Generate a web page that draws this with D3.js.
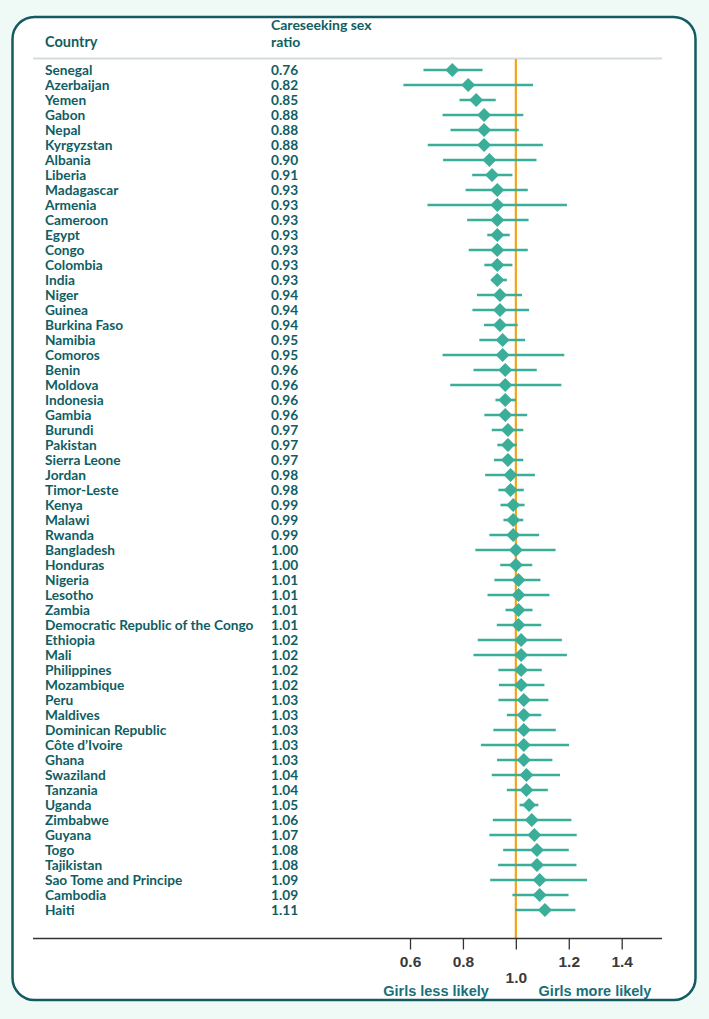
<!DOCTYPE html>
<html><head><meta charset="utf-8">
<script src="https://cdn.jsdelivr.net/npm/d3@7"></script>
<style>html,body{margin:0;padding:0;background:#effaf7;}</style>
</head><body>
<script>
const countries = ["Senegal","Azerbaijan","Yemen","Gabon","Nepal","Kyrgyzstan","Albania","Liberia","Madagascar","Armenia","Cameroon","Egypt","Congo","Colombia","India","Niger","Guinea","Burkina Faso","Namibia","Comoros","Benin","Moldova","Indonesia","Gambia","Burundi","Pakistan","Sierra Leone","Jordan","Timor-Leste","Kenya","Malawi","Rwanda","Bangladesh","Honduras","Nigeria","Lesotho","Zambia","Democratic Republic of the Congo","Ethiopia","Mali","Philippines","Mozambique","Peru","Maldives","Dominican Republic","Côte d’Ivoire","Ghana","Swaziland","Tanzania","Uganda","Zimbabwe","Guyana","Togo","Tajikistan","Sao Tome and Principe","Cambodia","Haiti"];
const ratio = [0.76,0.82,0.85,0.88,0.88,0.88,0.90,0.91,0.93,0.93,0.93,0.93,0.93,0.93,0.93,0.94,0.94,0.94,0.95,0.95,0.96,0.96,0.96,0.96,0.97,0.97,0.97,0.98,0.98,0.99,0.99,0.99,1.00,1.00,1.01,1.01,1.01,1.01,1.02,1.02,1.02,1.02,1.03,1.03,1.03,1.03,1.03,1.04,1.04,1.05,1.06,1.07,1.08,1.08,1.09,1.09,1.11];
const lower = [0.651,0.575,0.787,0.723,0.753,0.667,0.725,0.835,0.810,0.666,0.816,0.892,0.822,0.881,0.907,0.853,0.836,0.880,0.862,0.723,0.840,0.752,0.923,0.881,0.909,0.930,0.917,0.884,0.934,0.942,0.953,0.900,0.847,0.941,0.919,0.893,0.961,0.928,0.856,0.840,0.934,0.936,0.934,0.966,0.915,0.868,0.929,0.909,0.966,1.014,0.913,0.900,0.952,0.933,0.903,0.987,0.998];
const upper = [0.874,1.065,0.924,1.028,1.011,1.102,1.078,0.987,1.045,1.193,1.048,0.977,1.045,0.987,0.966,1.023,1.050,1.007,1.035,1.183,1.079,1.172,1.000,1.043,1.028,1.004,1.028,1.072,1.030,1.033,1.028,1.088,1.150,1.062,1.093,1.127,1.063,1.096,1.174,1.193,1.098,1.108,1.123,1.096,1.151,1.201,1.138,1.167,1.121,1.085,1.210,1.230,1.200,1.229,1.269,1.199,1.225];
const tickValues = [0.6,0.8,1.0,1.2,1.4];
const headerCountry = "Country";
const headerRatio = ["Careseeking sex","ratio"];
const leftNote = "Girls less likely";
const rightNote = "Girls more likely";

const W = 709, H = 1019;
const teal = "#0f5e63", green = "#3aae98", orange = "#f2a51c";
const svg = d3.select("body").append("svg").attr("width", W).attr("height", H);
svg.append("rect").attr("width", W).attr("height", H).attr("fill", "#effaf7");
svg.append("rect").attr("x", 12.5).attr("y", 17).attr("width", 683).attr("height", 983)
  .attr("rx", 22).attr("fill", "#fff").attr("stroke", "#145a60").attr("stroke-width", 2.5);

const x = d3.scaleLinear().domain([0.6, 1.4]).range([410, 621.7]);
const y = d3.scaleBand().domain(countries).range([62.5, 917.5]);
const cy = d => y(d) + y.bandwidth()/2;

const font = "Lato, 'Open Sans', sans-serif";
// header
svg.append("text").attr("x", 45).attr("y", 47).text(headerCountry)
  .attr("font-family", font).attr("font-weight", 700).attr("font-size", 14.5).attr("fill", teal);
svg.selectAll("text.hr").data(headerRatio).join("text").attr("class","hr")
  .attr("x", 271).attr("y", (d,i) => 30 + i*16.5).text(d => d)
  .attr("font-family", font).attr("font-weight", 700).attr("font-size", 14).attr("fill", teal);
svg.append("line").attr("x1", 33).attr("x2", 662).attr("y1", 58.5).attr("y2", 58.5)
  .attr("stroke", "#d5dcdc").attr("stroke-width", 2);

// reference line
svg.append("line").attr("x1", x(1)).attr("x2", x(1)).attr("y1", 59).attr("y2", 938)
  .attr("stroke", orange).attr("stroke-width", 2.2);

// rows
const rows = svg.selectAll("g.row").data(countries).join("g").attr("class","row");
rows.append("text").attr("x", 45).attr("y", d => cy(d) + 4.8).text(d => d)
  .attr("font-family", font).attr("font-weight", 700).attr("font-size", 13.7).attr("fill", teal);
rows.append("text").attr("x", 271).attr("y", d => cy(d) + 4.8).text((d,i) => ratio[i].toFixed(2))
  .attr("font-family", font).attr("font-weight", 700).attr("font-size", 13.7).attr("fill", teal);
rows.append("line").attr("x1", (d,i) => x(lower[i])).attr("x2", (d,i) => x(upper[i]))
  .attr("y1", d => cy(d)).attr("y2", d => cy(d)).attr("stroke", green).attr("stroke-width", 2.6);
const r = 7;
rows.append("path").attr("d", (d,i) => {
  const px = x(ratio[i]), py = cy(d);
  return `M${px},${py-r}L${px+r},${py}L${px},${py+r}L${px-r},${py}Z`;
}).attr("fill", green);

// axis
const axisG = svg.append("g").attr("transform", "translate(0,938.5)");
axisG.append("line").attr("x1", 33).attr("x2", 662).attr("stroke", "#333").attr("stroke-width", 1.3);
axisG.call(g => {
  const ax = d3.axisBottom(x).tickValues(tickValues).tickSize(11).tickFormat(d3.format(".1f"));
  const sub = g.append("g").call(ax);
  sub.select(".domain").remove();
  sub.selectAll(".tick line").attr("stroke", "#333").attr("stroke-width", 1.3);
  sub.selectAll(".tick text").attr("font-family", "'Liberation Sans', Arial, sans-serif")
    .attr("font-weight", 700).attr("font-size", 15.5).attr("fill", "#3a3a3a")
    .attr("y", d => d === 1.0 ? 33 : 17).attr("dy", "0.71em");
});
svg.append("text").attr("x", 436).attr("y", 995.5).attr("text-anchor","middle").text(leftNote)
  .attr("font-family", "'Liberation Sans', Arial, sans-serif").attr("font-weight", 700).attr("font-size", 14.5).attr("fill", "#17707a");
svg.append("text").attr("x", 595).attr("y", 995.5).attr("text-anchor","middle").text(rightNote)
  .attr("font-family", "'Liberation Sans', Arial, sans-serif").attr("font-weight", 700).attr("font-size", 14.5).attr("fill", "#17707a");
</script>
</body></html>
